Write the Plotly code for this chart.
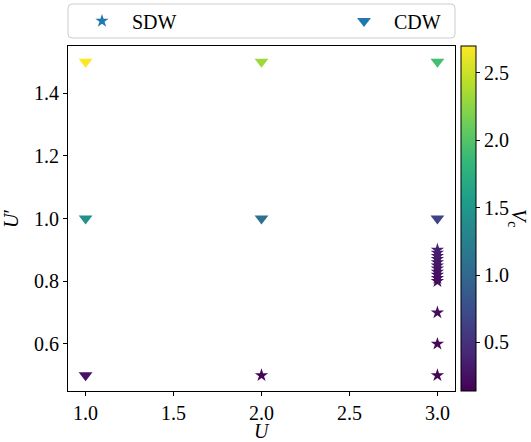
import plotly.graph_objects as go

# SDW points (stars)
sdw_u = [2.0, 3.0, 3.0, 3.0, 3.0, 3.0, 3.0, 3.0, 3.0, 3.0, 3.0, 3.0, 3.0, 3.0, 3.0]
sdw_up = [0.5, 0.5, 0.6, 0.7, 0.80, 0.81, 0.82, 0.83, 0.84, 0.85, 0.86, 0.87, 0.88, 0.89, 0.90]
sdw_vc = [0.17, 0.17, 0.19, 0.21, 0.23, 0.24, 0.25, 0.26, 0.27, 0.28, 0.29, 0.31, 0.33, 0.35, 0.37]

# CDW points (down triangles)
cdw_u = [1.0, 2.0, 3.0, 1.0, 2.0, 3.0, 1.0]
cdw_up = [1.5, 1.5, 1.5, 1.0, 1.0, 1.0, 0.5]
cdw_vc = [2.70, 2.32, 1.93, 1.42, 1.09, 0.66, 0.27]

x_ticks = [1.0, 1.5, 2.0, 2.5, 3.0]
y_ticks = [0.6, 0.8, 1.0, 1.2, 1.4]
cb_ticks = [0.5, 1.0, 1.5, 2.0, 2.5]

FONT = "Liberation Serif"
FS = 20
legend_blue = "#1f77b4"

# plot area in pixels
L, R, T, B = 68, 455, 46, 391
W, H = 531, 442
PW, PH = R - L, B - T

def px_x(p):
    return (p - L) / PW

def px_y(p):
    return (B - p) / PH

fig = go.Figure()
fig.add_trace(go.Scatter(x=sdw_u, y=sdw_up, mode="markers", showlegend=False,
                         marker=dict(symbol="star", size=10, color=sdw_vc, coloraxis="coloraxis",
                                     line=dict(width=0))))
fig.add_trace(go.Scatter(x=cdw_u, y=cdw_up, mode="markers", showlegend=False,
                         marker=dict(symbol="triangle-down", size=12, color=cdw_vc, coloraxis="coloraxis",
                                     line=dict(width=0))))
fig.add_trace(go.Scatter(x=[None], y=[None], mode="markers", name="SDW", legend="legend",
                         marker=dict(symbol="star", size=10, color=legend_blue)))
fig.add_trace(go.Scatter(x=[None], y=[None], mode="markers", name="CDW", legend="legend2",
                         marker=dict(symbol="triangle-down", size=12, color=legend_blue)))

# rounded legend frame
x0, x1 = px_x(68), px_x(455)
y0, y1 = px_y(38), px_y(4)
rx, ry = 4 / PW, 4 / PH
frame = (f"M {x0+rx},{y1} L {x1-rx},{y1} Q {x1},{y1} {x1},{y1-ry} "
         f"L {x1},{y0+ry} Q {x1},{y0} {x1-rx},{y0} "
         f"L {x0+rx},{y0} Q {x0},{y0} {x0},{y0+ry} "
         f"L {x0},{y1-ry} Q {x0},{y1} {x0+rx},{y1} Z")

legend_common = dict(orientation="h", yanchor="middle", y=px_y(21), xanchor="left",
                     borderwidth=0, bgcolor="rgba(0,0,0,0)", itemwidth=50,
                     font=dict(family=FONT, size=FS))

fig.update_layout(
    width=W, height=H,
    margin=dict(l=L, r=W - R, t=T, b=H - B, autoexpand=False),
    paper_bgcolor="white", plot_bgcolor="white",
    font=dict(family=FONT, size=FS, color="black"),
    coloraxis=dict(
        colorscale="Viridis", cmin=0.14, cmax=2.70,
        colorbar=dict(
            x=px_x(461), xanchor="left", xpad=0, y=0.5, yanchor="middle", ypad=0,
            len=1, lenmode="fraction", thickness=15,
            outlinewidth=1, outlinecolor="black",
            tickvals=cb_ticks, ticktext=[f"{v:.1f}" for v in cb_ticks],
            ticks="outside", ticklen=4, tickcolor="black",
            tickfont=dict(family=FONT, size=FS),
        ),
    ),
    legend=dict(x=px_x(72), **legend_common),
    legend2=dict(x=px_x(334), **legend_common),
    shapes=[dict(type="path", path=frame, xref="paper", yref="paper",
                 line=dict(color="#cccccc", width=1), fillcolor="rgba(0,0,0,0)", layer="above")],
    xaxis=dict(
        range=[0.9, 3.1], tickvals=x_ticks, ticktext=[f"{v:.1f}" for v in x_ticks],
        showgrid=False, zeroline=False, showline=True, linecolor="black", linewidth=1,
        mirror=True, ticks="outside", ticklen=4, tickcolor="black",
    ),
    yaxis=dict(
        range=[0.45, 1.55], tickvals=y_ticks, ticktext=[f"{v:.1f}" for v in y_ticks],
        showgrid=False, zeroline=False, showline=True, linecolor="black", linewidth=1,
        mirror=True, ticks="outside", ticklen=4, tickcolor="black",
        title=dict(text="<i>U</i>′", standoff=10, font=dict(family=FONT, size=FS)),
    ),
    annotations=[
        dict(text="<i>U</i>", xref="paper", yref="paper",
             x=0.5, y=px_y(431), xanchor="center", yanchor="middle",
             height=22, valign="middle", borderpad=0,
             showarrow=False, font=dict(family=FONT, size=FS)),
        dict(text="<i>V</i><sub>c</sub>", xref="paper", yref="paper",
             x=px_x(518), y=px_y(218), xanchor="center", yanchor="middle",
             textangle=90, showarrow=False, font=dict(family=FONT, size=FS)),
    ],
)

fig.write_html("out.html", config={"displayModeBar": False},
               post_script="document.body.style.margin='0';document.body.style.padding='0';")
